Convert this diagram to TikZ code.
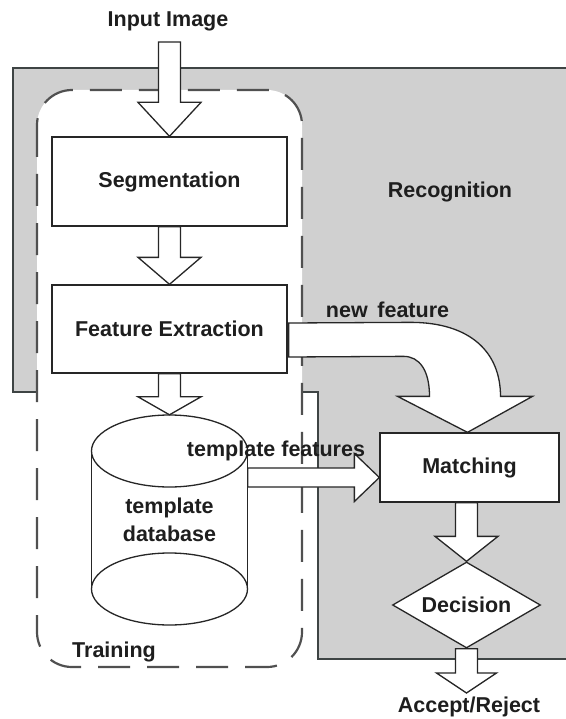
\documentclass[tikz,border=0pt]{standalone}
\usepackage{fontspec}
\setmainfont{Liberation Sans}
\usetikzlibrary{calc,shapes.geometric}

\definecolor{linec}{HTML}{262626}
\definecolor{regfill}{HTML}{D0D0D0}
\definecolor{regline}{HTML}{3E4444}
\definecolor{dashc}{HTML}{505050}
\definecolor{txtc}{HTML}{1E1E1E}

% downward block arrow: #1 start (top), #2 tip, #3 shaft half width,
% #4 head half width, #5 head length
\newcommand{\vblk}[5]{%
  \draw[blk] ($(#1)+(-#3,0)$) -- ($(#2)+(-#3,-#5)$) -- ($(#2)+(-#4,-#5)$)
    -- (#2) -- ($(#2)+(#4,-#5)$) -- ($(#2)+(#3,-#5)$) -- ($(#1)+(#3,0)$) -- cycle;}
% rightward block arrow, same arguments
\newcommand{\hblk}[5]{%
  \draw[blk] ($(#1)+(0,-#3)$) -- ($(#2)+(-#5,-#3)$) -- ($(#2)+(-#5,-#4)$)
    -- (#2) -- ($(#2)+(-#5,#4)$) -- ($(#2)+(-#5,#3)$) -- ($(#1)+(0,#3)$) -- cycle;}

\begin{document}
\begin{tikzpicture}[x=1pt,y=-1pt,
  font=\fontsize{21.5}{28}\selectfont\bfseries, text=txtc,
  blk/.style={draw=linec, fill=white, line width=1.3pt, line join=miter},
  lin/.style={draw=linec, line width=1.3pt},
  boxst/.style={draw=linec, fill=white, line width=1.3pt, inner sep=0pt,
    minimum width=235pt, minimum height=89pt},
  dia/.style={diamond, aspect=1.7, draw=linec, fill=white, line width=1.3pt,
    inner sep=0pt, minimum width=148pt, minimum height=86pt},
  region/.style={fill=regfill, draw=regline, line width=2pt},
  trainbox/.style={draw=dashc, fill=white, line width=2.2pt,
    dash pattern=on 32pt off 17pt, rounded corners=35pt},
  lbl/.style={inner sep=0pt, anchor=base}]

\useasboundingbox (0,0) rectangle (565,719);
\fill[white] (0,0) rectangle (565,719);

% recognition area and training area
\draw[region] (13,68) -- (570,68) -- (570,659) -- (318,659) -- (318,392)
  -- (13,392) -- cycle;
\draw[trainbox] (37,90) rectangle (302,667);

% template database cylinder
\coordinate (dbc) at (169.5,520);
\fill[white] ($(dbc)+(-78,-69)$) rectangle ($(dbc)+(78,69)$);
\draw[lin] ($(dbc)+(-78,-69)$) -- ($(dbc)+(-78,69)$);
\draw[lin] ($(dbc)+(78,-69)$) -- ($(dbc)+(78,69)$);
\draw[lin, fill=white] ($(dbc)+(0,69)$) ellipse [x radius=78pt, y radius=36pt];
\draw[lin, fill=white] ($(dbc)+(0,-69)$) ellipse [x radius=78pt, y radius=36pt];
\node[inner sep=0pt, minimum width=156pt, minimum height=210pt, align=center]
  (db) at (dbc) {template\\database};

% processing blocks
\node[boxst] (seg) at (169.5,181.5) {Segmentation};
\node[boxst, minimum height=88pt] (fe) at (169.5,329) {Feature Extraction};
\node[boxst, minimum width=179pt, minimum height=69pt] (match) at (469.5,467.5) {Matching};
\node[dia] (dec) at (466.5,605) {Decision};

% input and output
\node[lbl] (in) at (168,27) {Input Image};
\node[lbl] (out) at (469,712) {Accept/Reject};
\coordinate (in0) at (169.5,42);
\coordinate (acc) at (466.5,693);
\coordinate (m1) at (dec.north |- match.south);

% block arrows
\vblk{in0}{seg.north}{11}{31.5}{34}
\vblk{seg.south}{fe.north}{11}{31.5}{27}
\vblk{fe.south}{db.north}{11}{31.5}{18}
\vblk{m1}{dec.north}{11}{31.5}{25}
\vblk{dec.south}{acc}{11}{30}{20}

\coordinate (tfTip) at ($(match.west)+(0,10)$);
\coordinate (tfStart) at (db.east |- tfTip);
\hblk{tfStart}{tfTip}{9.5}{24}{25}

% curved arrow carrying the new feature
\coordinate (nfTip) at ($(match.north)+(-2,0)$);
\coordinate (nfA) at ($(fe.east)+(1,-6)$);
\coordinate (nfB) at ($(fe.east)+(1,28)$);
\begin{scope}[shift={(nfTip)}]
\draw[blk] (nfA) -- (-57,-110) .. controls (3,-110) and (33,-80) .. (33,-36)
  -- (65,-36) -- (0,0) -- (-70,-36) -- (-38,-36)
  .. controls (-38,-62) and (-48,-76) .. (-64,-76) -- (nfB) -- cycle;
\end{scope}

% labels
\node[lbl] (reclbl) at (450,197) {Recognition};
\node[lbl, anchor=base west] (trlbl) at (72,657) {Training};
\node[lbl] (nflbl) at (387.5,317) {new\hspace{0.45em}feature};
\node[lbl] (tflbl) at (276,456) {template features};
\end{tikzpicture}
\end{document}
